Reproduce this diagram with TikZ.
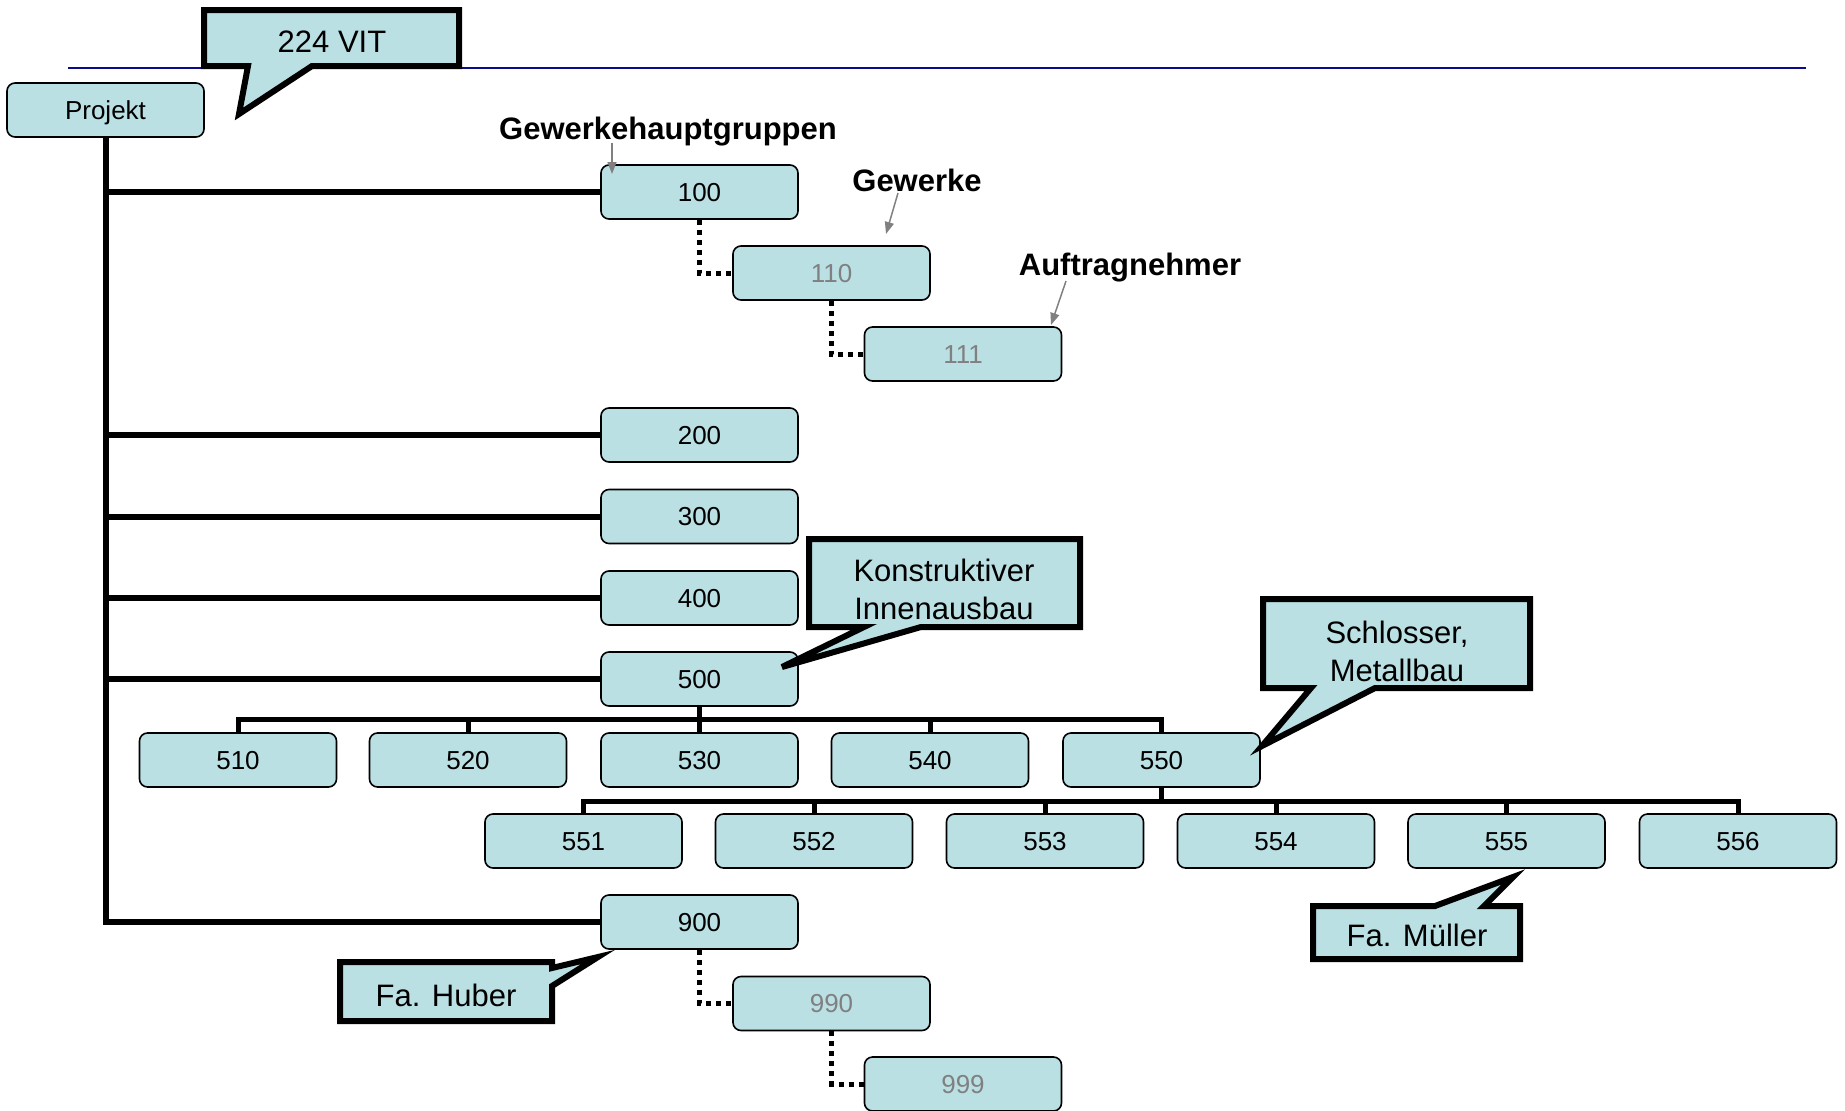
\documentclass[tikz,border=0pt]{standalone}
\usepackage{fontspec}
\setmainfont{Liberation Sans}
\usetikzlibrary{arrows.meta}

\definecolor{boxfill}{RGB}{186,224,228}
\definecolor{rulecolor}{RGB}{10,10,140}
\definecolor{dimtext}{RGB}{128,128,128}
\definecolor{hintgray}{RGB}{128,128,128}

\begin{document}
\begin{tikzpicture}[x=1pt,y=-1pt,
  box/.style={draw=black, line width=1.6pt, rounded corners=8pt, fill=boxfill,
    minimum width=197pt, minimum height=54pt, inner sep=0pt,
    text height=18.6pt, text depth=0pt, font=\fontsize{26}{31}\selectfont},
  subbox/.style={box, text=dimtext},
  tree/.style={draw=black, line width=6pt},
  bus/.style={draw=black, line width=5pt},
  dotlink/.style={draw=black, line width=5pt, dash pattern=on 5pt off 5pt},
  callout/.style={draw=black, line width=6pt, fill=boxfill, line join=miter},
  callouttext/.style={align=center, inner sep=0pt, font=\fontsize{31}{38}\selectfont},
  oneline/.style={callouttext, text height=22.2pt, text depth=0pt},
  headlabel/.style={anchor=base, inner sep=0pt, font=\fontsize{31}{37}\selectfont\bfseries},
  hint/.style={draw=hintgray, line width=1.5pt, -{Triangle[length=12pt,width=9pt]}, hintgray}
]
\useasboundingbox (0,0) rectangle (1845,1111);

% title rule
\draw[rulecolor, line width=2pt] (68,68) -- (1806,68);

% boxes
\node[box] (proj) at (105.5,110) {Projekt};
\node[box] (n100) at (699.5,192) {100};
\node[subbox] (n110) at (831.5,273) {110};
\node[subbox] (n111) at (963,354) {111};
\node[box] (n200) at (699.5,435) {200};
\node[box] (n300) at (699.5,516.5) {300};
\node[box] (n400) at (699.5,598) {400};
\node[box] (n500) at (699.5,679) {500};
\node[box] (n510) at (238,760) {510};
\node[box] (n520) at (468,760) {520};
\node[box] (n530) at (699.5,760) {530};
\node[box] (n540) at (930,760) {540};
\node[box] (n550) at (1161.5,760) {550};
\node[box] (n551) at (583.5,841) {551};
\node[box] (n552) at (814,841) {552};
\node[box] (n553) at (1045,841) {553};
\node[box] (n554) at (1276,841) {554};
\node[box] (n555) at (1506.5,841) {555};
\node[box] (n556) at (1738,841) {556};
\node[box] (n900) at (699.5,922) {900};
\node[subbox] (n990) at (831.5,1003.5) {990};
\node[subbox] (n999) at (963,1084) {999};

% main trunk and branches
\draw[tree] (proj.south) |- (n900.west);
\foreach \n in {n100,n200,n300,n400,n500}
  \draw[tree] (proj.south |- \n.west) -- (\n.west);

% sub-groups of 500
\coordinate (bus5) at (699.5,719);
\draw[bus] (n500.south) -- (bus5);
\draw[bus] (n510.north) |- (bus5) -| (n550.north);
\foreach \n in {n520,n530,n540}
  \draw[bus] (\n.north) -- (\n.north |- bus5);

% sub-groups of 550
\coordinate (bus55) at (1161.5,801);
\draw[bus] (n550.south) -- (bus55);
\draw[bus] (n551.north) |- (bus55) -| (n556.north);
\foreach \n in {n552,n553,n554,n555}
  \draw[bus] (\n.north) -- (\n.north |- bus55);

% dotted sub levels
\draw[dotlink] (n100.south) |- (n110.west);
\draw[dotlink] (n110.south) |- (n111.west);
\draw[dotlink] (n900.south) |- (n990.west);
\draw[dotlink] (n990.south) |- (n999.west);

% level labels with hint arrows
\node[headlabel] (lblgroups) at (668,139) {Gewerkehauptgruppen};
\node[headlabel] (lbltrades) at (917,191) {Gewerke};
\node[headlabel] (lblcontr) at (1130,275) {Auftragnehmer};
\coordinate (hA1) at (612,143);
\coordinate (hA2) at (612,174);
\coordinate (hB1) at (898,193);
\coordinate (hB2) at (886,234);
\coordinate (hC1) at (1066,281);
\coordinate (hC2) at (1051,325);
\draw[hint] (hA1) -- (hA2);
\draw[hint] (hB1) -- (hB2);
\draw[hint] (hC1) -- (hC2);

% callouts
\draw[callout] (204,10) -- (459,10) -- (459,66) -- (312,66) -- (239,114)
  -- (248,66) -- (204,66) -- cycle;
\node[oneline] (cvit) at (332,41) {224 VIT};

\draw[callout] (809,539) -- (1080,539) -- (1080,627) -- (921,627) -- (782,667)
  -- (864,627) -- (809,627) -- cycle;
\node[callouttext] (cinnen) at (944,589) {Konstruktiver\\Innenausbau};

\draw[callout] (1263,599) -- (1530,599) -- (1530,688) -- (1375,688) -- (1262,746)
  -- (1311,688) -- (1263,688) -- cycle;
\node[callouttext] (cmetal) at (1397,651) {Schlosser,\\Metallbau};

\draw[callout] (1313,906) -- (1435,906) -- (1513,877) -- (1484,906) -- (1520,906)
  -- (1520,959) -- (1313,959) -- cycle;
\node[oneline] (cmueller) at (1417,935) {Fa. Müller};

\draw[callout] (340,962) -- (552,962) -- (552,968) -- (598,957) -- (552,986)
  -- (552,1021) -- (340,1021) -- cycle;
\node[oneline] (chuber) at (446,995) {Fa. Huber};
\end{tikzpicture}
\end{document}
